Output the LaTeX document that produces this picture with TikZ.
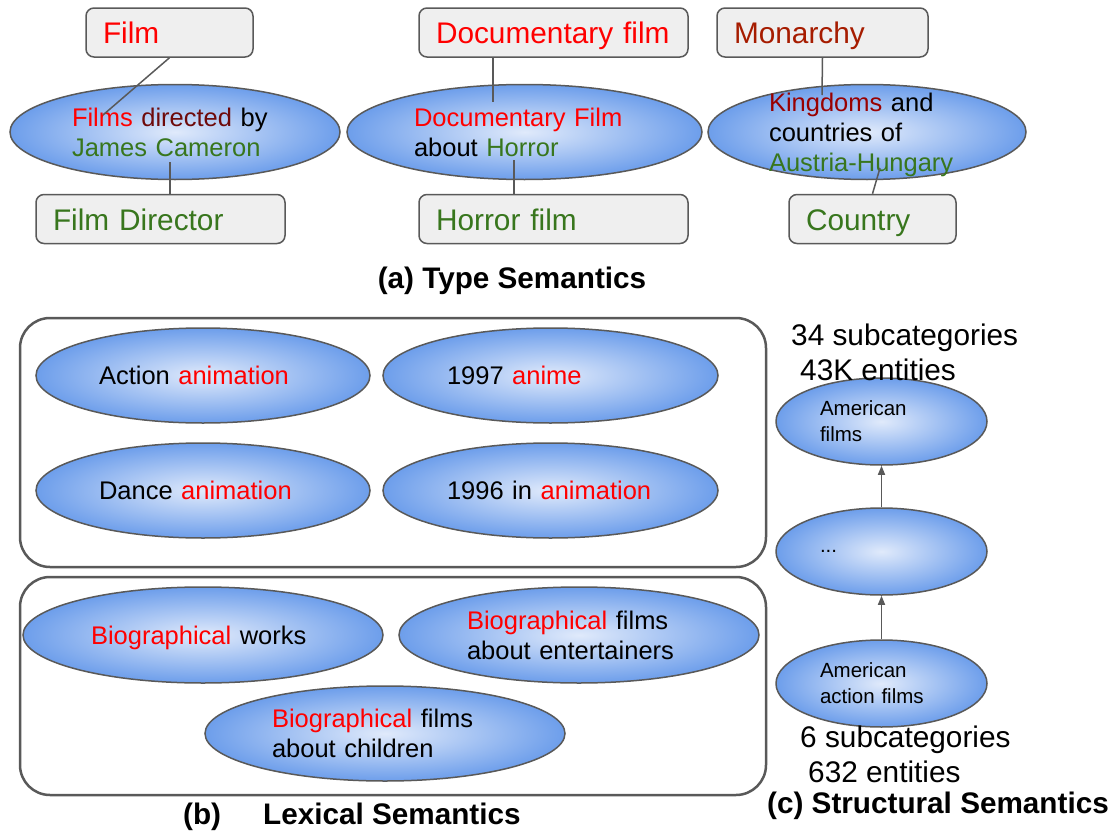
\documentclass[tikz,border=0pt]{standalone}
\usepackage{fontspec}
\setmainfont{Liberation Sans}
\usetikzlibrary{shapes.geometric,arrows.meta}
\definecolor{edgegray}{RGB}{89,89,89}
\definecolor{boxfill}{RGB}{239,239,239}
\definecolor{ellin}{RGB}{224,234,251}
\definecolor{ellout}{RGB}{109,158,235}
\definecolor{hypred}{RGB}{255,0,0}
\definecolor{kingred}{RGB}{153,0,0}
\definecolor{berry}{RGB}{166,28,0}
\definecolor{dirred}{RGB}{110,10,10}
\definecolor{entgreen}{RGB}{56,118,29}
\newcommand{\hypword}[1]{\textcolor{hypred}{#1}}
\newcommand{\entword}[1]{\textcolor{entgreen}{#1}}

\begin{document}
\begin{tikzpicture}[
    x=1pt, y=-1pt,
    box/.style={draw=edgegray, line width=1.5pt, fill=boxfill, rounded corners=8pt,
        minimum height=49pt, inner xsep=17pt, align=left, text height=22pt, text depth=0pt,
        font=\fontsize{29.8}{34}\selectfont},
    cat/.style={ellipse, draw=edgegray, line width=1.5pt, inner color=ellin, outer color=ellout,
        inner sep=-20pt, minimum width=330pt, minimum height=95pt, align=left,
        font=\fontsize{25.5}{30}\selectfont},
    small/.style={cat, minimum width=211pt, minimum height=87pt, text width=123pt,
        font=\fontsize{20.5}{26}\selectfont},
    link/.style={draw=edgegray, line width=1.5pt},
    up/.style={link, -{Triangle[length=9pt,width=7pt]}},
    frame/.style={draw=edgegray, line width=2.5pt, rounded corners=30pt},
    caption/.style={font=\bfseries\fontsize{29.7}{34}\selectfont, inner sep=0pt},
    count/.style={font=\fontsize{29.8}{35}\selectfont, align=left, anchor=west, inner sep=0pt},
]
\useasboundingbox (0,0) rectangle (1117,835);

% (a) type semantics
\node[box, text width=133pt] (film)     at (169.5,32.5) {\hypword{Film}};
\node[box, text width=215pt] (director) at (160.5,219)  {\entword{Film Director}};
\node[box, text width=235pt] (docfilm)  at (553.5,32.5) {\hypword{Documentary film}};
\node[box, text width=235pt] (horror)   at (553.5,219)  {\entword{Horror film}};
\node[box, text width=177pt] (monarchy) at (822.5,32.5) {\textcolor{berry}{Monarchy}};
\node[box, text width=133pt] (country)  at (872.5,219)  {\entword{Country}};

\node[cat, text width=206pt] (dirE) at (175,132)
    {\hypword{Films} \textcolor{dirred}{directed} by\\\entword{James Cameron}};
\node[cat, minimum width=355pt, text width=221pt] (docE) at (524.5,132)
    {\hypword{Documentary Film}\\about \entword{Horror}};
\node[cat, minimum width=318pt, text width=196pt, text depth=59pt] (kingE) at (867,132)
    {\textcolor{kingred}{Kingdoms} and\\countries of\\\entword{Austria-Hungary}};

\coordinate (filmEnd) at (103,115);
\coordinate (dirEnd)  at (170,162);
\coordinate (docEnd)  at (493,102);
\coordinate (horEnd)  at (514,160);
\coordinate (monEnd)  at (822,95);
\coordinate (ctyEnd)  at (880,168);
\draw[link] (film.south) -- (filmEnd);
\draw[link] (dirEnd) -- (dirEnd |- director.north);
\draw[link] (docEnd |- docfilm.south) -- (docEnd);
\draw[link] (horEnd) -- (horEnd |- horror.north);
\draw[link] (monarchy.south) -- (monEnd);
\draw[link] (ctyEnd) -- (country.north);

\node[caption] (capA) at (512,281) {(a) Type Semantics};

% (b) lexical semantics
\draw[frame] (20,318) rectangle (766,567);
\draw[frame] (20,577) rectangle (766,795);

\node[cat, minimum width=334pt, text width=208pt] (actE)   at (203,375.5) {Action \hypword{animation}};
\node[cat, minimum width=335pt, text width=207pt] (animeE) at (550.5,375.5) {1997 \hypword{anime}};
\node[cat, minimum width=334pt, text width=208pt] (danceE) at (203,490.5) {Dance \hypword{animation}};
\node[cat, minimum width=335pt, text width=207pt] (inE)    at (550.5,490.5) {1996 in \hypword{animation}};

\node[cat, minimum width=360pt, minimum height=96pt, text width=224pt, text depth=0pt] (worksE) at (203,635)
    {\hypword{Biographical} works};
\node[cat, minimum width=360pt, minimum height=96pt, text width=224pt] (entE) at (579,635)
    {\hypword{Biographical} films\\about entertainers};
\node[cat, minimum width=360pt, text width=226pt] (childE) at (385,733.5)
    {\hypword{Biographical} films\\about children};

\node[caption, anchor=west] (capB) at (183,817) {(b)\hspace{42pt}Lexical Semantics};

% (c) structural semantics
\node[small] (usE)    at (881.5,421.5) {American\\films};
\node[small] (midE)   at (881.5,551.5) {...};
\node[small] (usactE) at (881.5,683.5) {American\\action films};
\draw[up] (midE.north) -- (usE.south);
\draw[up] (usactE.north) -- (midE.south);

\node[count] (topCount) at (791,352) {34 subcategories\\\hspace*{9pt}43K entities};
\node[count] (botCount) at (800,754) {6 subcategories\\\hspace*{8pt}632 entities};
\node[caption, anchor=west] (capC) at (767,806) {(c) Structural Semantics};
\end{tikzpicture}
\end{document}
